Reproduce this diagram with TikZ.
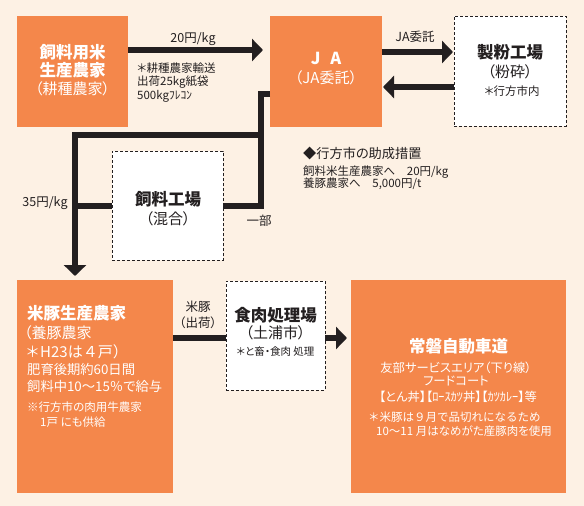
\documentclass[tikz,border=0pt]{standalone}
\usepackage{fontspec}
\setmainfont[RawFeature=+palt]{Noto Sans CJK JP}
\newfontfamily\jpfull{Noto Sans CJK JP}
\usetikzlibrary{arrows.meta,calc}
\definecolor{bg}{HTML}{FDF1E4}
\definecolor{og}{HTML}{F4874B}
\definecolor{ink}{HTML}{231F20}
\begin{document}
\begin{tikzpicture}[x=1pt,y=-1pt,
  obox/.style={fill=og,draw=none,anchor=north west,inner sep=0pt,outer sep=0pt},
  dbox/.style={fill=white,draw=ink,line width=0.9pt,dash pattern=on 3pt off 2pt,anchor=north west,inner sep=0pt,outer sep=0pt},
  conn/.style={draw=ink,line width=6pt},
  arr/.style={conn,-{Triangle[length=11pt,width=22pt]}},
  wt/.style={text=white,inner sep=0pt},
  dk/.style={text=ink,inner sep=0pt},
  big/.style={font=\bfseries\fontsize{16.5}{19}\selectfont},
  mid/.style={font=\fontsize{15}{18}\selectfont},
  lbl/.style={font=\fontsize{12.5}{14}\selectfont},
  sml/.style={font=\fontsize{11.5}{14}\selectfont},
  tiny/.style={font=\fontsize{10.5}{13}\selectfont}]
\fill[bg] (0,0) rectangle (584,506);
\useasboundingbox (0,0) rectangle (584,506);

% boxes
\node[obox,minimum width=111pt,minimum height=111pt] (rice) at (17,16) {};
\node[obox,minimum width=112pt,minimum height=111pt] (ja) at (270,16) {};
\node[dbox,minimum width=112pt,minimum height=110pt] (seifun) at (454,16) {};
\node[dbox,minimum width=111pt,minimum height=109pt] (ff) at (112,151) {};
\node[obox,minimum width=156pt,minimum height=213pt] (pig) at (17,280) {};
\node[dbox,minimum width=99pt,minimum height=109pt] (meat) at (226,281) {};
\node[obox,minimum width=215pt,minimum height=213pt] (hw) at (351,280) {};

% connectors
\coordinate (k1) at (261,94);
\coordinate (k2) at (261,206);
\coordinate (k3) at (261,135);
\coordinate (k4) at (75,135);
\coordinate (k5) at (75,206);
\draw[arr] ($(rice.north east)+(0,34)$) -- ($(ja.north west)+(-7,34)$);
\draw[arr] ($(ja.north east)+(0,36)$) -- ($(seifun.north west)+(-1,36)$);
\draw[arr] ($(seifun.north west)+(0,71)$) -- ($(ja.north east)+(1,71)$);
\draw[conn] ($(ja.north west)+(0,78)$) -- (k1) -- (k2) -- ($(ff.north east)+(0,55)$);
\draw[arr] (k3) -- (k4) -- ($(pig.north west)+(58,-4)$);
\draw[conn] ($(ff.north west)+(0,55)$) -- (k5);
\draw[conn] ($(pig.north east)+(0,58)$) -- ($(meat.north west)+(0,57)$);
\draw[arr] ($(meat.north east)+(0,57)$) -- ($(hw.north west)+(-4,58)$);

% box 1
\node[big,wt] (r1) at (72.5,52) {飼料用米};
\node[big,wt] (r2) at (72.5,70) {生産農家};
\node[mid,wt] (r3) at (72.5,89) {（耕種農家）};
% JA
\node[big,wt] (j1) at (326,58) {J\hspace{0.6em}A};
\node[mid,wt] (j2) at (326,78) {（JA委託）};
% seifun
\node[big,dk] (s1) at (510,52) {製粉工場};
\node[mid,dk] (s2) at (510,72) {（粉砕）};
\node[sml,dk] (s3) at (512,91) {＊行方市内};
% arrow labels
\node[lbl,dk] (l1) at (193,39) {20円/kg};
\node[sml,dk,anchor=west] (n1) at (137,68) {＊耕種農家輸送};
\node[sml,dk,anchor=west] (n2) at (137,82) {出荷25kg紙袋};
\node[sml,dk,anchor=west] (n3) at (137,96) {500kgﾌﾚｺﾝ};
\node[lbl,dk] (l2) at (415,37) {JA委託};
% feed factory
\node[big,dk] (f1) at (168,199) {飼料工場};
\node[mid,dk] (f2) at (168,219) {（混合）};
\node[lbl,dk] (l3) at (45,203) {35円/kg};
\node[lbl,dk] (l4) at (259,221) {一部};
% subsidy
\node[font=\fontsize{13.2}{15}\selectfont,dk,anchor=west] (h1) at (303,153) {◆行方市の助成措置};
\node[sml,dk,anchor=west] (h2) at (303,172) {飼料米生産農家へ　20円/kg};
\node[sml,dk,anchor=west] (h3) at (303,184) {養豚農家へ　5,000円/t};
% pig farm
\node[big,wt,anchor=west] (p1) at (27,313) {米豚生産農家};
\node[mid,wt,anchor=west] (p2) at (24,333) {（養豚農家};
\node[font=\jpfull\fontsize{15}{18}\selectfont,wt,anchor=west] (p3) at (25,352) {＊H23は４戸）};
\node[font=\fontsize{13.3}{15}\selectfont,wt,anchor=west] (p4) at (27,369) {肥育後期約60日間};
\node[font=\fontsize{13.3}{15}\selectfont,wt,anchor=west] (p5) at (27,386) {飼料中10～15％で給与};
\node[sml,wt,anchor=west] (p6) at (27,407) {※行方市の肉用牛農家};
\node[sml,wt,anchor=west] (p7) at (40,422) {1戸 にも供給};
% meat
\node[lbl,dk] (m0a) at (198,307) {米豚};
\node[lbl,dk] (m0b) at (198,323) {（出荷）};
\node[big,dk] (m1) at (275.5,315) {食肉処理場};
\node[mid,dk] (m2) at (275.5,333) {（土浦市）};
\node[tiny,dk] (m3) at (275.5,352) {＊と畜・食肉 処理};
% highway
\node[big,wt] (w1) at (458.5,346) {常磐自動車道};
\node[font=\fontsize{12.3}{14}\selectfont,wt] (w2) at (456,368) {友部サービスエリア（下り線）};
\node[font=\fontsize{12.3}{14}\selectfont,wt] (w3) at (456,381) {フードコート};
\node[font=\fontsize{12.3}{14}\selectfont,wt] (w4) at (458,397) {【とん丼】【ﾛｰｽｶﾂ丼】【ｶﾂｶﾚｰ】等};
\node[font=\jpfull\fontsize{11.5}{14}\selectfont,wt,anchor=west] (w5) at (368,417) {＊米豚は９月で品切れになるため};
\node[sml,wt,anchor=west] (w6) at (376,431) {10～11 月はなめがた産豚肉を使用};
\end{tikzpicture}
\end{document}
